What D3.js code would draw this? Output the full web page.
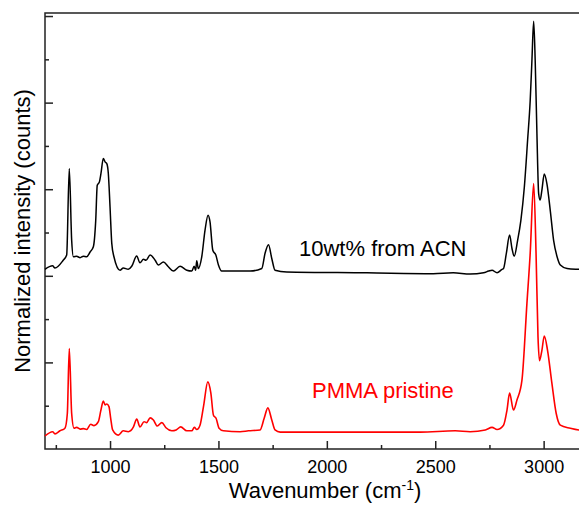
<!DOCTYPE html>
<html>
<head>
<meta charset="utf-8">
<script src="https://cdn.jsdelivr.net/npm/d3@7/dist/d3.min.js"></script>
<style>
  body { margin: 0; background: #fff; }
  svg { display: block; font-family: "Liberation Sans", Arial, sans-serif; }
</style>
</head>
<body>
<svg id="chart" width="579" height="505"></svg>
<script>
// 10wt% film cast from ACN (offset spectrum), [wavenumber, intensity]
var acnSpectrum = [
  [700, 4.15], [735, 4.23], [746, 4.18], [784, 4.36], [800, 4.48], [812, 6.48],
  [823, 4.82], [831, 4.44], [846, 4.45], [862, 4.42], [877, 4.45], [892, 4.44],
  [908, 4.55], [923, 4.67], [934, 5.28], [941, 6.09], [951, 6.17], [958, 6.36],
  [969, 6.71], [977, 6.63], [985, 6.59], [992, 6.37], [1000, 5.59], [1008, 4.75],
  [1018, 4.44], [1046, 4.13], [1061, 4.18], [1084, 4.15], [1100, 4.22], [1123, 4.46],
  [1138, 4.30], [1154, 4.38], [1166, 4.36], [1185, 4.48], [1208, 4.36], [1223, 4.25],
  [1246, 4.32], [1269, 4.21], [1292, 4.11], [1323, 4.22], [1354, 4.13], [1377, 4.11],
  [1388, 4.22], [1395, 4.13], [1400, 4.35], [1407, 4.17], [1423, 4.44], [1438, 5.05],
  [1452, 5.40], [1461, 5.25], [1474, 4.59], [1488, 4.48], [1500, 4.25], [1515, 4.11],
  [1531, 4.11], [1646, 4.11], [1700, 4.17], [1715, 4.52], [1731, 4.72], [1746, 4.40],
  [1761, 4.13], [1815, 4.09], [2185, 4.07], [2491, 4.05], [2583, 4.07], [2661, 4.04],
  [2723, 4.07], [2746, 4.11], [2762, 4.13], [2785, 4.07], [2808, 4.15], [2815, 4.17],
  [2828, 4.52], [2843, 4.94], [2854, 4.63], [2864, 4.45], [2880, 4.82], [2895, 5.28],
  [2911, 6.05], [2926, 7.13], [2938, 8.05], [2946, 8.98], [2954, 9.88], [2961, 8.98],
  [2969, 7.29], [2977, 5.90], [2984, 5.75], [2992, 5.98], [3003, 6.35], [3015, 6.13],
  [3031, 5.49], [3046, 4.82], [3062, 4.44], [3077, 4.25], [3108, 4.17], [3164, 4.15],
  [3200, 4.14]
];

// pristine PMMA
var pristineSpectrum = [
  [700, 0.30], [735, 0.40], [746, 0.35], [769, 0.42], [792, 0.48], [803, 0.82],
  [812, 2.32], [823, 0.82], [834, 0.48], [846, 0.50], [862, 0.46], [877, 0.47],
  [892, 0.45], [911, 0.57], [926, 0.54], [946, 0.63], [958, 0.90], [969, 1.11],
  [977, 1.02], [985, 1.04], [995, 0.98], [1003, 0.71], [1012, 0.44], [1038, 0.32],
  [1061, 0.42], [1084, 0.40], [1108, 0.51], [1123, 0.69], [1138, 0.51], [1157, 0.63],
  [1169, 0.61], [1185, 0.72], [1200, 0.67], [1218, 0.53], [1239, 0.61], [1258, 0.49],
  [1285, 0.42], [1305, 0.44], [1326, 0.51], [1354, 0.42], [1377, 0.42], [1389, 0.50],
  [1400, 0.45], [1415, 0.55], [1431, 0.98], [1451, 1.55], [1465, 1.29], [1477, 0.78],
  [1489, 0.71], [1503, 0.48], [1523, 0.42], [1600, 0.40], [1638, 0.42], [1692, 0.44],
  [1711, 0.71], [1728, 0.95], [1746, 0.67], [1761, 0.44], [1785, 0.39], [1969, 0.39],
  [2431, 0.39], [2592, 0.42], [2661, 0.40], [2731, 0.44], [2762, 0.50], [2785, 0.45],
  [2815, 0.55], [2831, 0.90], [2843, 1.29], [2861, 0.90], [2877, 1.13], [2900, 1.59],
  [2923, 3.37], [2938, 4.52], [2954, 6.13], [2965, 4.52], [2974, 2.59], [2981, 2.04],
  [2992, 2.28], [3003, 2.61], [3018, 2.28], [3038, 1.52], [3058, 0.82], [3077, 0.55],
  [3123, 0.48], [3163, 0.44], [3200, 0.43]
];

var xMajorTicks = [1000, 1500, 2000, 2500, 3000];
var xMinorTicks = [750, 1250, 1750, 2250, 2750];
var yMajorTicks = [2, 4, 6, 8, 10];
var yMinorTicks = [1, 3, 5, 7, 9];

var svg = d3.select("#chart");
var plotLeft = 45, plotRight = 587, plotTop = 13, plotBottom = 449;

var x = d3.scaleLinear().domain([700, 3200]).range([plotLeft, plotRight]);
var y = d3.scaleLinear().domain([0, 10.07]).range([plotBottom, plotTop]);

// axes (ticks point inward)
var gx = svg.append("g").attr("transform", "translate(0," + plotBottom + ")")
  .call(d3.axisBottom(x).tickValues(xMajorTicks).tickSize(-8).tickPadding(11).tickFormat(d3.format("d")));
svg.append("g").attr("transform", "translate(0," + plotBottom + ")")
  .call(d3.axisBottom(x).tickValues(xMinorTicks).tickSize(-4).tickFormat(""));
svg.append("g").attr("transform", "translate(" + plotLeft + ",0)")
  .call(d3.axisLeft(y).tickValues(yMajorTicks).tickSize(-8).tickFormat(""));
svg.append("g").attr("transform", "translate(" + plotLeft + ",0)")
  .call(d3.axisLeft(y).tickValues(yMinorTicks).tickSize(-4).tickFormat(""));

svg.selectAll(".domain").remove();
svg.selectAll(".tick line").attr("stroke", "#222").attr("stroke-width", 1.5);
gx.selectAll("text").attr("font-size", 18).attr("fill", "#000")
  .attr("font-family", "'Liberation Sans', Arial, sans-serif");

// frame
svg.append("rect")
  .attr("x", plotLeft).attr("y", plotTop)
  .attr("width", plotRight - plotLeft).attr("height", plotBottom - plotTop)
  .attr("fill", "none").attr("stroke", "#222").attr("stroke-width", 1.5);

var line = d3.line()
  .x(function(d) { return x(d[0]); })
  .y(function(d) { return y(d[1]); })
  .curve(d3.curveMonotoneX);

svg.append("path").datum(acnSpectrum)
  .attr("d", line).attr("fill", "none")
  .attr("stroke", "#000").attr("stroke-width", 1.5);

svg.append("path").datum(pristineSpectrum)
  .attr("d", line).attr("fill", "none")
  .attr("stroke", "#ff0000").attr("stroke-width", 1.6);

// labels
svg.append("text").attr("x", 299).attr("y", 256)
  .attr("font-size", 22).attr("fill", "#000").text("10wt% from ACN");
svg.append("text").attr("x", 312).attr("y", 398)
  .attr("font-size", 22).attr("fill", "#ff0000").text("PMMA pristine");

var xt = svg.append("text").attr("x", 325).attr("y", 498)
  .attr("text-anchor", "middle").attr("font-size", 22).attr("fill", "#000");
xt.append("tspan").text("Wavenumber (cm");
xt.append("tspan").attr("baseline-shift", "super").attr("font-size", 14).text("-1");
xt.append("tspan").text(")");

svg.append("text")
  .attr("transform", "translate(30,231) rotate(-90)")
  .attr("text-anchor", "middle").attr("font-size", 22).attr("fill", "#000")
  .text("Normalized intensity (counts)");
</script>
</body>
</html>
